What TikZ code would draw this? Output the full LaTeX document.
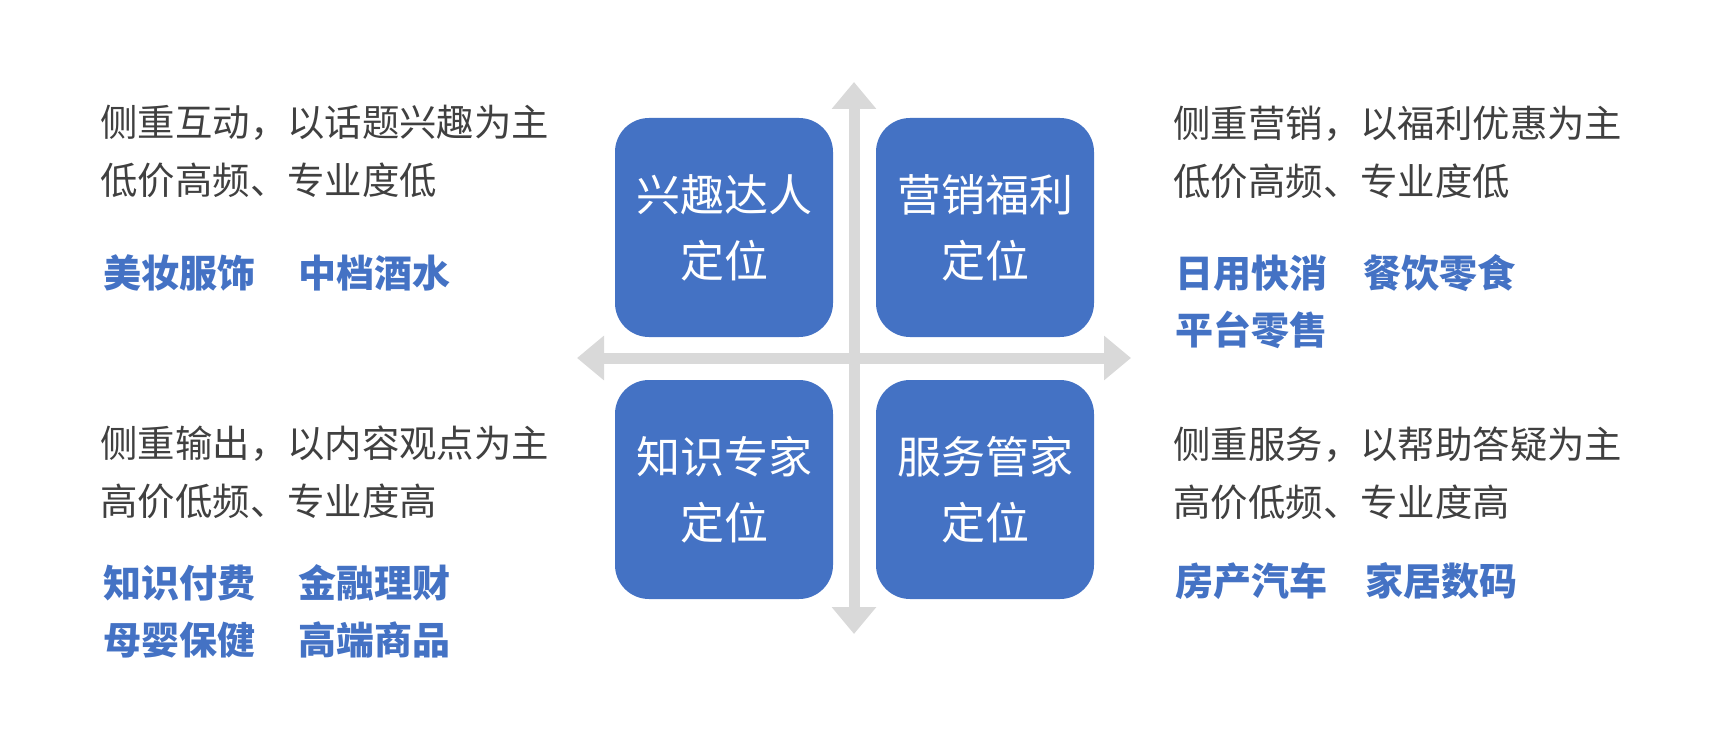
\documentclass[tikz,border=0pt]{standalone}
\usepackage{fontspec}
\setmainfont{Noto Sans CJK SC}
\usetikzlibrary{arrows.meta}
\definecolor{qblue}{HTML}{4472C4}
\definecolor{axisgray}{HTML}{D9D9D9}
\definecolor{txtgray}{HTML}{404040}
\tikzset{
  quad/.style={fill=qblue,text=white,rounded corners=17pt,minimum width=109pt,minimum height=109.5pt,
    align=center,inner sep=0pt,font=\fontsize{22}{33}\selectfont},
  desc/.style={anchor=west,align=left,inner sep=0pt,text=txtgray,font=\fontsize{18.7}{29}\selectfont},
  tag/.style={anchor=west,inner sep=0pt,text=qblue,font=\fontsize{19}{22}\selectfont\bfseries},
  axis/.style={draw=axisgray,line width=5.5pt,
    {Triangle[width=21.5pt,length=13.5pt]}-{Triangle[width=21.5pt,length=13.5pt]}}
}
\begin{document}
\begin{tikzpicture}[x=0.5pt,y=-0.5pt]
      \useasboundingbox (0,0) rectangle (1730,733);
      \coordinate(L) at (577,358);
      \coordinate(R) at (1131,358);
      \coordinate(T) at (854,82);
      \coordinate(B) at (854,634);
      \draw[axis](L)--(R);
      \draw[axis](T)--(B);
      \node[quad](Q1) at (724,227.5) {兴趣达人\\定位};
      \node[quad](Q2) at (985,227.5) {营销福利\\定位};
      \node[quad](Q3) at (724,489.5) {知识专家\\定位};
      \node[quad](Q4) at (985,489.5) {服务管家\\定位};
      \node[desc](D1) at (100,151) {侧重互动，以话题兴趣为主\\低价高频、专业度低};
      \node[desc](D2) at (1173,152) {侧重营销，以福利优惠为主\\低价高频、专业度低};
      \node[desc](D3) at (100,472) {侧重输出，以内容观点为主\\高价低频、专业度高};
      \node[desc](D4) at (1173,473) {侧重服务，以帮助答疑为主\\高价低频、专业度高};
      \foreach \n/\x/\y/\t in{T1/103/273/美妆服饰,T2/298/273/中档酒水,
        T3/1175/273/日用快消,T4/1363/273/餐饮零食,T5/1175/330/平台零售,
        T6/103/583/知识付费,T7/298/583/金融理财,T8/103/640/母婴保健,T9/298/640/高端商品,
        T10/1175/581/房产汽车,T11/1365/581/家居数码}{
        \node[tag](\n) at (\x,\y) {\t};
      }
\end{tikzpicture}
\end{document}
